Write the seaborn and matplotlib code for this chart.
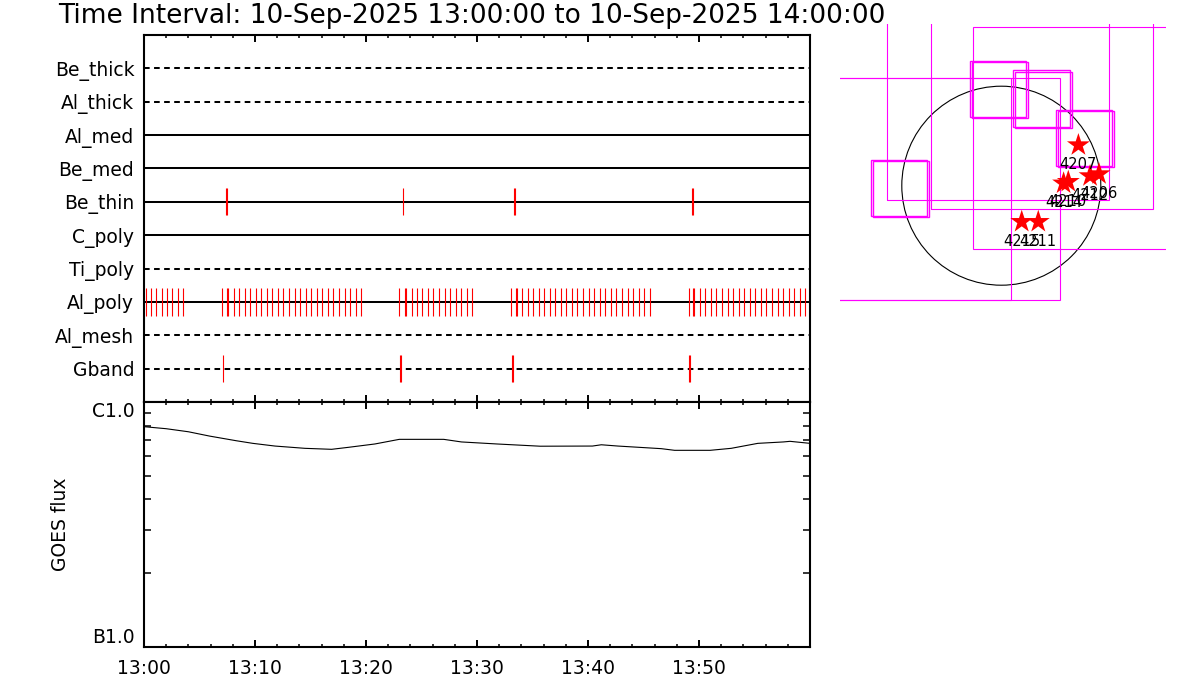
import numpy as np
import pandas as pd
import matplotlib
matplotlib.use("Agg")
import matplotlib.pyplot as plt
import seaborn as sb
from matplotlib.patches import Rectangle, Circle
from matplotlib.ticker import FixedLocator, MultipleLocator, FuncFormatter, NullFormatter, LogLocator

# ---- data ----
# filter rows, top to bottom
filters = ['Be_thick', 'Al_thick', 'Al_med', 'Be_med', 'Be_thin',
           'C_poly', 'Ti_poly', 'Al_poly', 'Al_mesh', 'Gband']
dashed_rows = ['Be_thick', 'Al_thick', 'Ti_poly', 'Al_mesh', 'Gband']

# exposure times, minutes after 13:00
be_thin_times = [7.35, 7.44, 23.33, 33.29, 33.38, 49.33, 49.42]
gband_times = [7.14, 23.08, 23.17, 33.11, 33.20, 49.12, 49.21]
al_poly_times = [
    0.15, 0.60, 1.08, 1.59, 2.07, 2.55, 3.06, 3.54,
    7.05, 7.50, 7.59, 8.08, 8.56, 9.07, 9.55, 10.06, 10.57, 11.05, 11.56,
    12.07, 12.55, 13.06, 13.58, 14.05, 14.57, 15.07, 15.56, 16.06, 16.55,
    17.05, 17.57, 18.08, 18.56, 19.07, 19.58,
    23.00, 23.47, 23.56, 24.12, 24.59, 25.07, 25.59, 26.06, 26.58, 27.09,
    27.57, 28.08, 28.59, 29.07, 29.58,
    33.04, 33.47, 33.56, 34.08, 34.57, 35.05, 35.56, 36.04, 36.55, 37.05,
    37.57, 38.05, 38.56, 39.04, 39.55, 40.06, 40.57, 41.05, 41.56, 42.05,
    42.55, 43.06, 43.58, 44.05, 44.57, 45.05, 45.56,
    49.07, 49.48, 49.57, 50.09, 50.57, 51.08, 51.56, 52.07, 52.58, 53.06,
    53.58, 54.08, 54.57, 55.07, 55.59, 56.07, 56.58, 57.09, 57.57, 58.08,
    58.59, 59.07, 59.58]
row_times = {'Be_thin': be_thin_times, 'Al_poly': al_poly_times, 'Gband': gband_times}

# GOES flux (W/m^2)
goes_minutes = [0.0, 2.0, 4.0, 5.9, 8.3, 9.8, 11.8, 14.5, 16.9, 18.4, 20.8,
                23.0, 27.0, 28.6, 31.8, 35.7, 40.4, 41.2, 42.7, 46.6, 47.8,
                51.0, 52.9, 55.3, 57.6, 58.2, 60.0]
goes_flux = [7.93e-7, 7.78e-7, 7.56e-7, 7.26e-7, 6.95e-7, 6.78e-7, 6.61e-7,
             6.47e-7, 6.41e-7, 6.53e-7, 6.74e-7, 7.04e-7, 7.04e-7, 6.87e-7,
             6.74e-7, 6.60e-7, 6.61e-7, 6.69e-7, 6.61e-7, 6.45e-7, 6.35e-7,
             6.35e-7, 6.47e-7, 6.78e-7, 6.87e-7, 6.91e-7, 6.78e-7]

# pointings (arcsec from disk centre)
small_fov_x = [-979, -960, -30, -12, 387, 405, 796, 813]
small_fov_y = [-21, -34, 930, 921, 838, 824, 458, 450]
large_fov_x = [-970, -500, -30, 387, 796]
large_fov_y = [-28, -28, 930, 838, 458]
small_side = 540
large_side = 2130
sun_radius = 955

ar_numbers = ['4207', '4214', '4210', '4212', '4206', '4215', '4211']
ar_x = [740, 598, 643, 852, 938, 196, 355]
ar_y = [390, 23, 38, 93, 112, -346, -346]

# ---- style ----
sb.set_style('ticks')
plt.rcParams['font.family'] = ['DejaVu Sans']
plt.rcParams['font.size'] = 13.5
for key in ['text.color', 'axes.labelcolor', 'xtick.color', 'ytick.color', 'axes.edgecolor']:
    plt.rcParams[key] = 'black'

fig = plt.figure(figsize=(12, 7), dpi=100)

# top panel: filter timeline
ax = fig.add_axes([144 / 1200, 1 - 402 / 700, 666 / 1200, 367 / 700])
for i, name in enumerate(filters):
    ax.axhline(i + 1, color='black', lw=1.45,
               ls=(0, (2.8, 2.2)) if name in dashed_rows else '-')
    if name in row_times:
        ax.vlines(row_times[name], i + 1 - 0.41, i + 1 + 0.41, color='red', lw=0.8)
ax.set_xlim(0, 60)
ax.set_ylim(11, 0)
ax.set_yticks(range(1, len(filters) + 1))
ax.set_yticklabels(filters)
ax.tick_params(axis='y', length=0, pad=7, labelsize=13.5)

# GOES panel
ax_g = fig.add_axes([144 / 1200, 1 - 647 / 700, 666 / 1200, 245 / 700], sharex=ax)
df = pd.DataFrame({'minute': goes_minutes, 'flux': goes_flux})
sb.lineplot(data=df, x='minute', y='flux', color='black', lw=0.8, ax=ax_g)
ax_g.set_yscale('log')
ax_g.set_ylim(1e-7, 1e-6)
ax_g.yaxis.set_major_locator(FixedLocator([1e-7, 1e-6]))
ax_g.yaxis.set_minor_locator(LogLocator(subs=np.arange(2, 10)))
ax_g.yaxis.set_minor_formatter(NullFormatter())
ax_g.set_yticklabels(['B1.0', 'C1.0'])
labs = ax_g.get_yticklabels()
labs[0].set_va('bottom')
labs[1].set_va('top')
ax_g.set_xlabel('')
ax_g.set_ylabel('GOES flux', fontsize=13.5)
ax_g.yaxis.set_label_coords(-0.111, 0.5)

for a in (ax, ax_g):
    a.xaxis.set_major_locator(FixedLocator([0, 10, 20, 30, 40, 50]))
    a.xaxis.set_minor_locator(MultipleLocator(2))
    a.tick_params(axis='x', which='both', direction='in', top=True, bottom=True)
    a.tick_params(axis='x', which='major', length=5, width=1.4)
    a.tick_params(axis='x', which='minor', length=2.5, width=1.1)
    for s in a.spines.values():
        s.set_linewidth(1.5)
ax.tick_params(axis='x', labelbottom=False)
ax_g.xaxis.set_major_formatter(FuncFormatter(lambda v, p: '13:%02d' % int(round(v))))
ax_g.tick_params(axis='x', which='major', pad=9, labelsize=13.5)
ax_g.tick_params(axis='y', which='both', direction='in', left=True, right=True, pad=7)
ax_g.tick_params(axis='y', which='major', length=5, width=1.4, labelsize=13.5)
ax_g.tick_params(axis='y', which='minor', length=4.7, width=1.1)

fig.text(58 / 1200, 1 - 16 / 700,
         'Time Interval: 10-Sep-2025 13:00:00 to 10-Sep-2025 14:00:00',
         ha='left', va='center', fontsize=19)

# right panel: pointings on the solar disk
scale = sun_radius / 99.5
ax_s = fig.add_axes([839.5 / 1200, 1 - 302 / 700, 326 / 1200, 278 / 700])
ax_s.set_xlim((839.5 - 1001.3) * scale, (1165.5 - 1001.3) * scale)
ax_s.set_ylim((185.7 - 302) * scale, (185.7 - 24) * scale)
ax_s.axis('off')
ax_s.add_patch(Circle((0, 0), sun_radius, fill=False, ec='black', lw=0.8))
for x, y in zip(large_fov_x, large_fov_y):
    ax_s.add_patch(Rectangle((x - large_side / 2, y - large_side / 2), large_side, large_side,
                             fill=False, ec='#ff00ff', lw=0.8))
for x, y in zip(small_fov_x, small_fov_y):
    ax_s.add_patch(Rectangle((x - small_side / 2, y - small_side / 2), small_side, small_side,
                             fill=False, ec='#ff00ff', lw=1.0))
sb.scatterplot(x=ar_x, y=ar_y, marker='*', s=300, color='red', edgecolor='none', ax=ax_s, zorder=5)
for txt, x, y in zip(ar_numbers, ar_x, ar_y):
    ax_s.annotate(txt, (x, y), xytext=(0, -14), textcoords='offset points',
                  ha='center', va='center', fontsize=10.5, zorder=6)

fig.savefig('out.png', dpi=100)
